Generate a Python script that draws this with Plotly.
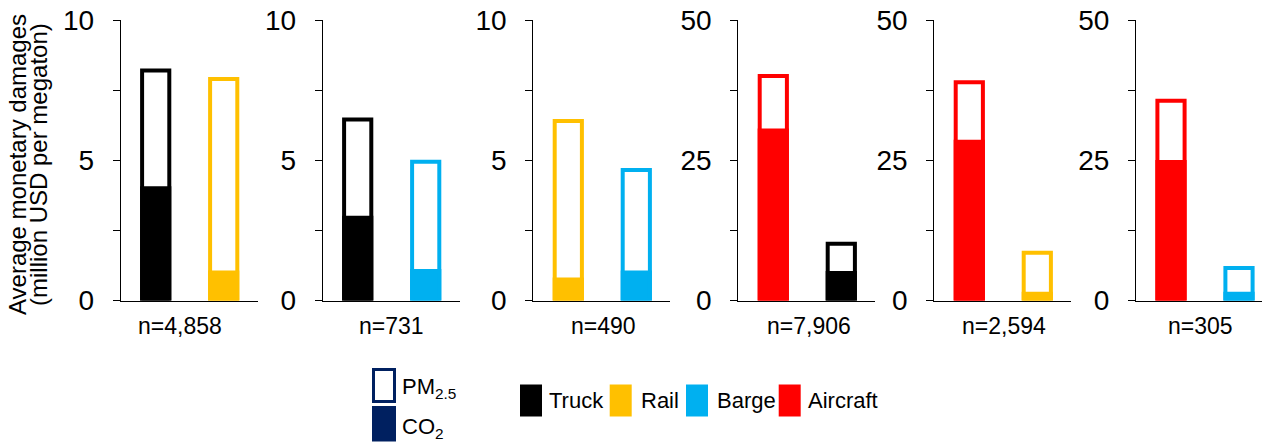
import plotly.graph_objects as go

# ---------------- data ----------------
panel_labels = ["n=4,858", "n=731", "n=490", "n=7,906", "n=2,594", "n=305"]
panel_modes = [["Truck", "Rail"], ["Truck", "Barge"], ["Rail", "Barge"],
               ["Aircraft", "Truck"], ["Aircraft", "Rail"], ["Aircraft", "Barge"]]
total_damage = [[8.2, 7.9], [6.45, 4.95], [6.4, 4.65],
                [40.0, 10.1], [38.9, 8.5], [35.6, 5.8]]   # PM2.5 + CO2
co2_damage = [[4.0, 1.0], [2.95, 1.05], [0.75, 1.0],
              [30.3, 4.9], [28.3, 1.2], [24.7, 1.2]]
y_max = [10, 10, 10, 50, 50, 50]
mode_names = ["Truck", "Rail", "Barge", "Aircraft"]
mode_colors = {"Truck": "#000000", "Rail": "#FFC000", "Barge": "#00B0F0", "Aircraft": "#FF0000"}
y_title_lines = ["Average monetary damages", "(million USD per megaton)"]

# ---------------- layout constants ----------------
PAGE_W, PAGE_H = 1270, 444
OFF = 8                      # default body margin of the page
W, H = PAGE_W - OFF, PAGE_H - OFF
FONT = "Liberation Sans, Arial, sans-serif"
NAVY = "#002060"


def px2x(px):
    return (px - OFF) / W


def px2y(py):
    return 1 - (py - OFF) / H


axis_left_px = [120.7, 322.7, 533.3, 738.3, 934.3, 1136.0]
panel_w_px = 137.0
px_per_cat = 68.0
first_bar_off = 35.0
plot_top_px, plot_bot_px = 20.0, 300.5
label_shift = [-9.5, 0, 2, 2, 1, -2.5]

fig = go.Figure()
layout = dict(
    width=W, height=H, template="none",
    margin=dict(l=0, r=0, t=0, b=0, pad=0),
    paper_bgcolor="white", plot_bgcolor="rgba(0,0,0,0)",
    barmode="overlay", showlegend=False,
    font=dict(family=FONT, color="#000000"),
)

annotations = []
shapes = []
ydom = [px2y(plot_bot_px), px2y(plot_top_px)]

for i in range(6):
    k = "" if i == 0 else str(i + 1)
    xa, ya = "x" + k, "y" + k
    cols = [mode_colors[m] for m in panel_modes[i]]
    fig.add_trace(go.Bar(
        x=panel_modes[i], y=total_damage[i], xaxis=xa, yaxis=ya,
        width=0.4, marker=dict(color="white", line=dict(color=cols, width=4)),
        name="PM2.5"))
    fig.add_trace(go.Bar(
        x=panel_modes[i], y=co2_damage[i], xaxis=xa, yaxis=ya,
        width=0.4, marker=dict(color=cols, line=dict(color=cols, width=4)),
        name="CO2"))
    x0 = axis_left_px[i]
    x1 = min(x0 + panel_w_px, PAGE_W)
    r0 = -first_bar_off / px_per_cat
    r1 = r0 + (x1 - x0) / px_per_cat
    layout["xaxis" + k] = dict(
        domain=[px2x(x0), px2x(x1)], anchor=ya, type="category",
        categoryorder="array", categoryarray=panel_modes[i],
        range=[r0, r1], showticklabels=False, ticks="", showgrid=False,
        zeroline=False, showline=True, linecolor="#000000", linewidth=1,
        automargin=False, fixedrange=True)
    ym = y_max[i]
    layout["yaxis" + k] = dict(
        domain=ydom, anchor=xa, range=[0, ym],
        tickvals=[0, ym / 4, ym / 2, 3 * ym / 4, ym],
        ticktext=["0", "", str(ym // 2), "", str(ym)],
        ticks="outside", ticklen=7, tickwidth=1, tickcolor="#000000",
        showline=True, linecolor="#000000", linewidth=1,
        showgrid=False, zeroline=False, automargin=False,
        ticklabelstandoff=13, ticklabeloverflow="allow",
        tickfont=dict(family=FONT, size=28, color="#000000"), fixedrange=True)
    annotations.append(dict(
        text=panel_labels[i], xref=xa + " domain", yref="paper",
        x=0.5, y=px2y(326), xanchor="center", yanchor="middle",
        xshift=label_shift[i], showarrow=False,
        font=dict(family=FONT, size=23, color="#000000")))

# y-axis title (two lines, tight spacing)
for txt, xc in zip(y_title_lines, [17.0, 38.0]):
    annotations.append(dict(
        text=txt, xref="paper", yref="paper", x=px2x(xc), y=px2y(165),
        xanchor="center", yanchor="middle", textangle=-90, showarrow=False,
        font=dict(family=FONT, size=24, color="#000000")))

# ---- legend: PM2.5 / CO2 ----
shapes.append(dict(type="rect", xref="paper", yref="paper",
                   x0=px2x(373.5), x1=px2x(394.5), y0=px2y(401.5), y1=px2y(369.5),
                   line=dict(color=NAVY, width=3), fillcolor="white"))
shapes.append(dict(type="rect", xref="paper", yref="paper",
                   x0=px2x(372), x1=px2x(396), y0=px2y(441.5), y1=px2y(406),
                   line=dict(width=0), fillcolor=NAVY))
annotations.append(dict(text="PM<sub>2.5</sub>", xref="paper", yref="paper",
                        x=px2x(400), y=px2y(388), xanchor="left", yanchor="middle",
                        showarrow=False, font=dict(family=FONT, size=22, color="#000000")))
annotations.append(dict(text="CO<sub>2</sub>", xref="paper", yref="paper",
                        x=px2x(400), y=px2y(428), xanchor="left", yanchor="middle",
                        showarrow=False, font=dict(family=FONT, size=22, color="#000000")))

# ---- legend: modes ----
sq_x = [520, 609.7, 686, 778.7]
txt_x = [547, 639, 714.5, 805.5]
for m, sx, tx in zip(mode_names, sq_x, txt_x):
    shapes.append(dict(type="rect", xref="paper", yref="paper",
                       x0=px2x(sx), x1=px2x(sx + 22), y0=px2y(416.5), y1=px2y(384.5),
                       line=dict(width=0), fillcolor=mode_colors[m]))
    annotations.append(dict(text=m, xref="paper", yref="paper",
                            x=px2x(tx), y=px2y(400), xanchor="left", yanchor="middle",
                            showarrow=False, font=dict(family=FONT, size=22, color="#000000")))

layout["annotations"] = annotations
layout["shapes"] = shapes
fig.update_layout(**layout)
fig.write_html("out.html")
